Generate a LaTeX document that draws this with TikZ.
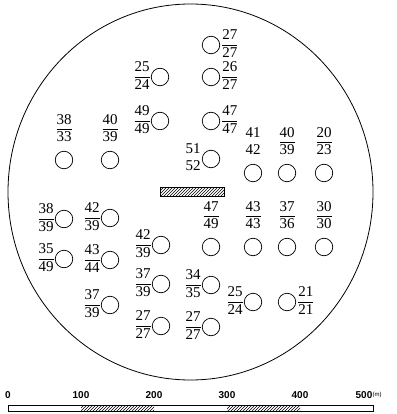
\documentclass[tikz,border=0pt]{standalone}
\usepackage{fontspec}
\setmainfont{Liberation Serif}
\setsansfont{Liberation Sans}
\usetikzlibrary{positioning,patterns}
\newcommand{\fr}[2]{\begin{tabular}{@{}c@{}}#1\\\hline #2\end{tabular}}
\newcommand{\stk}[2]{\begin{tabular}{@{}c@{}}#1\\#2\end{tabular}}
\tikzset{
  hole/.style={circle,draw,line width=0.7pt,minimum size=17.5pt,inner sep=0pt},
  ratio/.style={inner sep=0pt,font=\fontsize{15}{17}\selectfont},
  scalelbl/.style={inner sep=0pt,font=\sffamily\bfseries\fontsize{10}{12}\selectfont}
}
\begin{document}
\begin{tikzpicture}[x=1pt,y=-1pt]
  \useasboundingbox (0,0) rectangle (396,414);
  % outline
  \draw[line width=0.8pt] (190.5,192) ellipse [x radius=182.5, y radius=188];
  % hatched block
  \draw[line width=0.6pt,pattern=north east lines] (160,187) rectangle (224,196);

  % holes, ratio on the left
  \foreach \n/\x/\y/\a/\b in {a/160/77/25/24, b/160/121/49/49, l/64/219/38/39,
      m/110/218/42/39, n/161/245/42/39, o/64/259/35/49, p/110/260/43/44,
      q/161/284/37/39, r/110/305/37/39, s/161/326/27/27, t2/211/285/34/35,
      z/211/327/27/27, x/253/302/25/24}{
    \node[hole] (\n) at (\x,\y) {};
    \node[ratio,left=1pt of \n] (\n-r) {\fr{\a}{\b}};
  }
  % holes, ratio on the right
  \foreach \n/\x/\y/\a/\b in {e/211/45/27/27, f/211/77/26/27, g/211/121/47/47,
      y/287/302/21/21}{
    \node[hole] (\n) at (\x,\y) {};
    \node[ratio,right=2pt of \n] (\n-r) {\fr{\a}{\b}};
  }
  % holes, ratio above
  \foreach \n/\x/\y/\a/\b in {c/64/160/38/33, d/110/160/40/39, j/287/173/40/39,
      k/324/173/20/23, t/211/247/47/49, u/253/247/43/43, v/287/247/37/36,
      w/324/247/30/30}{
    \node[hole] (\n) at (\x,\y) {};
    \node[ratio,above=4pt of \n] (\n-r) {\fr{\a}{\b}};
  }
  % the two without a bar
  \node[hole] (h) at (211,159) {};
  \node[ratio,left=1pt of h] (h-r) {\stk{51}{52}};
  \node[hole] (i) at (253,173) {};
  \node[ratio,above=4pt of i] (i-r) {\stk{41}{42}};

  % scale
  \draw[line width=0.7pt] (8,405) rectangle (373,411);
  \fill[pattern=north east lines] (81,405) rectangle (154,411);
  \fill[pattern=north east lines] (227,405) rectangle (300,411);
  \foreach \v/\x in {0/8, 100/81, 200/154, 300/227, 400/300}
    \node[scalelbl] (s\v) at (\x,395) {\v};
  \node[scalelbl] (s500) at (364,395) {500};
  \node[scalelbl,font=\sffamily\fontsize{6}{7}\selectfont,right=0pt of s500] (unit) {(m)};
\end{tikzpicture}
\end{document}
